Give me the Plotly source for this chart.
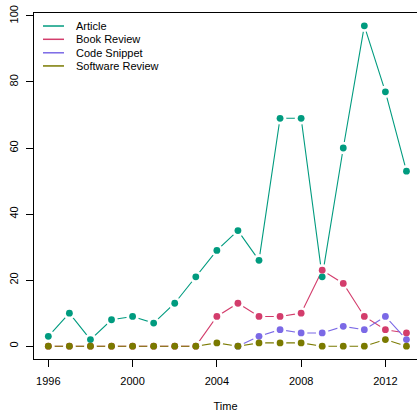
import plotly.graph_objects as go

years = list(range(1996, 2014))
series_names = ["Article", "Book Review", "Code Snippet", "Software Review"]
article = [3, 10, 2, 8, 9, 7, 13, 21, 29, 35, 26, 69, 69, 21, 60, 97, 77, 53]
book_review = [0, 0, 0, 0, 0, 0, 0, 0, 9, 13, 9, 9, 10, 23, 19, 9, 5, 4]
code_snippet = [None, None, None, None, None, None, None, None, None, 0, 3, 5, 4, 4, 6, 5, 9, 2]
software_review = [0, 0, 0, 0, 0, 0, 0, 0, 1, 0, 1, 1, 1, 0, 0, 0, 2, 0]
colors = ["#009B7F", "#D33D6C", "#7B69E6", "#7A7A00"]
x_ticks = [1996, 2000, 2004, 2008, 2012]
y_ticks = [0, 20, 40, 60, 80, 100]

values = [article, book_review, code_snippet, software_review]
FONT = "Liberation Sans, Arial, Helvetica, sans-serif"

fig = go.Figure()
# lines with white gap masks (R type="b")
for name, vals, col in zip(series_names, values, colors):
    fig.add_trace(go.Scatter(x=years, y=vals, mode="lines", name=name,
                             line=dict(color=col, width=1.1), showlegend=False,
                             hoverinfo="skip"))
    fig.add_trace(go.Scatter(x=years, y=vals, mode="markers", showlegend=False,
                             marker=dict(color="white", size=12.5, line=dict(width=0)),
                             hoverinfo="skip"))
for name, vals, col in zip(series_names, values, colors):
    fig.add_trace(go.Scatter(x=years, y=vals, mode="markers", name=name,
                             marker=dict(color=col, size=6.8, line=dict(width=0)),
                             showlegend=False))

# manual legend (R style, no box)
leg_y = [0.9624, 0.924, 0.885, 0.847]
for name, col, yy in zip(series_names, colors, leg_y):
    fig.add_shape(type="line", xref="paper", yref="paper", x0=0.0235, x1=0.0783,
                  y0=yy, y1=yy, line=dict(color=col, width=1.5))
    fig.add_annotation(xref="paper", yref="paper", x=0.1044, y=yy, text=name,
                       showarrow=False, xanchor="left", yanchor="middle",
                       font=dict(family=FONT, size=11, color="black"))

fig.update_layout(
    width=417, height=412,
    margin=dict(l=34, r=0, t=13, b=53),
    plot_bgcolor="white", paper_bgcolor="white",
    font=dict(family=FONT, size=11, color="black"),
    showlegend=False,
    xaxis=dict(range=[1995.32, 2013.5], tickvals=x_ticks, ticks="outside", ticklen=7,
               tickcolor="black", showline=True, linecolor="black", linewidth=1,
               mirror=True, showgrid=False, zeroline=False, ticklabelstandoff=5,
               title=dict(text="Time", standoff=17, font=dict(size=11))),
    yaxis=dict(range=[-3.88, 100.88], tickvals=y_ticks, ticks="outside", ticklen=7,
               tickcolor="black", showline=True, linecolor="black", linewidth=1,
               showgrid=False, zeroline=False, tickangle=-90, ticklabelstandoff=4),
)
fig.write_html("out.html", config={"displayModeBar": False},
               post_script="document.body.style.margin='0';document.body.style.overflow='hidden';")
